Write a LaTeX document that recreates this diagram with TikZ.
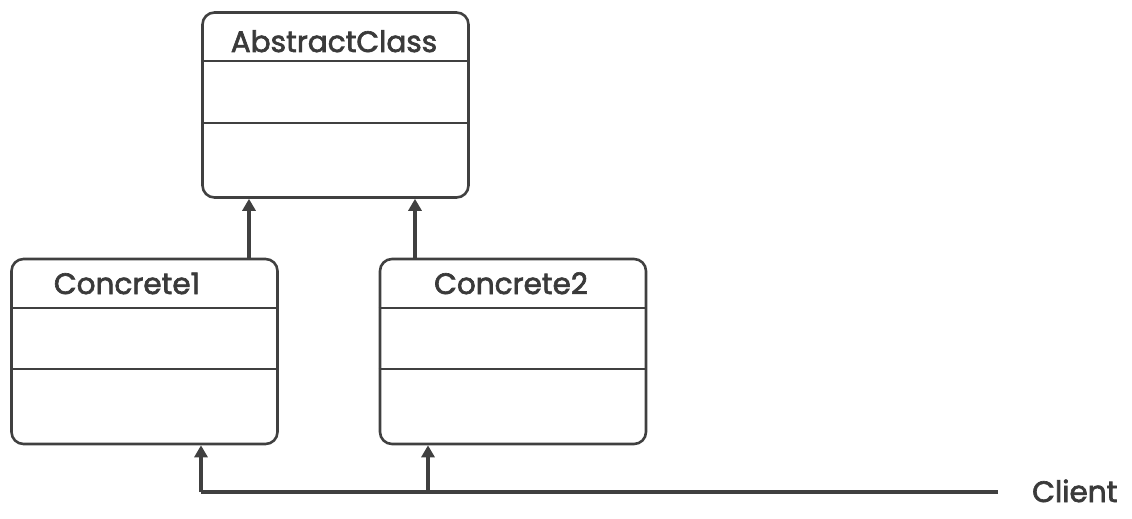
\documentclass[tikz,border=0pt]{standalone}
\usepackage{fontspec}
\setmainfont{Poppins}
\newfontfamily\lblfont{Poppins}[FakeBold=2.2]
\usetikzlibrary{arrows.meta}
\definecolor{ink}{HTML}{404040}
\definecolor{txt}{HTML}{3A3A3A}
\begin{document}
\begin{tikzpicture}[x=1pt,y=-1pt,
  classbox/.style={draw=ink,line width=2.6pt,rounded corners=12pt,minimum width=266pt,minimum height=185pt,inner sep=0pt},
  conn/.style={draw=ink,line width=3.2pt,-{Triangle[length=12pt,width=13pt]}},
  plain/.style={draw=ink,line width=3.2pt},
  divider/.style={draw=ink,line width=2.6pt},
  lbl/.style={text=txt,font=\lblfont\fontsize{29.5}{31}\selectfont,inner sep=0pt,anchor=base}]
\useasboundingbox (0,0) rectangle (1132,519);
\node[classbox] (A) at (335.5,105) {};
\node[classbox] (C1) at (144.5,351.5) {};
\node[classbox] (C2) at (513,351.5) {};
\draw[divider] (A.west |- 0,61) -- (A.east |- 0,61);
\draw[divider] (A.west |- 0,123) -- (A.east |- 0,123);
\draw[divider] (C1.west |- 0,308) -- (C1.east |- 0,308);
\draw[divider] (C1.west |- 0,369) -- (C1.east |- 0,369);
\draw[divider] (C2.west |- 0,308) -- (C2.east |- 0,308);
\draw[divider] (C2.west |- 0,369) -- (C2.east |- 0,369);
\node[lbl] (tA) at (334,52) {AbstractClass};
\node[lbl] (t1) at (127,294) {Concrete1};
\node[lbl] (t2) at (511,294) {Concrete2};
\node[lbl,anchor=base west] (cl) at (1032,502) {Client};
\coordinate (b1) at (201,492);
\coordinate (b2) at (428,492);
\coordinate (bend) at (998,492);
\draw[conn] (C1.north -| 249,0) -- (A.south -| 249,0);
\draw[conn] (C2.north -| 415,0) -- (A.south -| 415,0);
\draw[plain] (bend) -- (b1);
\draw[conn] (b1) -- (C1.south -| b1);
\draw[conn] (b2) -- (C2.south -| b2);
\end{tikzpicture}
\end{document}
